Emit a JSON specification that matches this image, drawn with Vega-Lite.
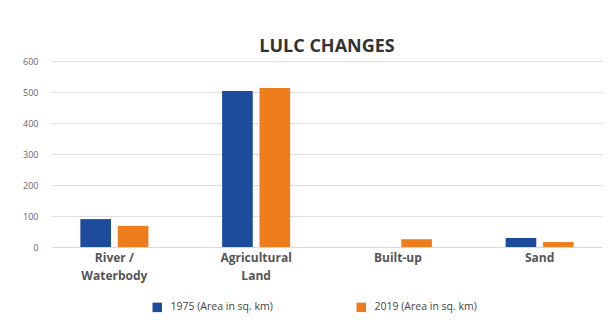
{
  "$schema": "https://vega.github.io/schema/vega-lite/v6.json",
  "width": 550,
  "height": 186,
  "padding": {"left": 22, "right": 8, "top": 38, "bottom": 4},
  "background": "white",
  "title": {"text": "LULC CHANGES", "font": "Open Sans", "fontSize": 18, "fontWeight": "bold", "color": "#333333", "anchor": "middle", "offset": 1},
  "data": {"values": [
    {"cat": "River /|Waterbody", "series": "1975 (Area in sq. km)", "area": 90},
    {"cat": "River /|Waterbody", "series": "2019 (Area in sq. km)", "area": 68},
    {"cat": "Agricultural|Land", "series": "1975 (Area in sq. km)", "area": 503},
    {"cat": "Agricultural|Land", "series": "2019 (Area in sq. km)", "area": 513},
    {"cat": "Built-up", "series": "1975 (Area in sq. km)", "area": 0},
    {"cat": "Built-up", "series": "2019 (Area in sq. km)", "area": 25},
    {"cat": "Sand", "series": "1975 (Area in sq. km)", "area": 29},
    {"cat": "Sand", "series": "2019 (Area in sq. km)", "area": 16}
  ]},
  "mark": {"type": "bar"},
  "encoding": {
    "x": {"field": "cat", "type": "nominal", "sort": null,
      "scale": {"paddingInner": 0.52, "paddingOuter": 0.2},
      "axis": {"title": null, "labelAngle": 0, "labelExpr": "split(datum.value, '|')", "labelFont": "Open Sans", "labelFontSize": 12, "labelFontWeight": "bold", "labelColor": "#555555", "labelLineHeight": 18, "domain": true, "domainColor": "#d9d9d9", "ticks": false, "labelPadding": 5}},
    "xOffset": {"field": "series", "type": "nominal", "scale": {"paddingInner": 0.18}},
    "y": {"field": "area", "type": "quantitative",
      "scale": {"domain": [0, 600]},
      "axis": {"title": null, "values": [0, 100, 200, 300, 400, 500, 600], "labelFont": "Open Sans", "labelFontSize": 9, "labelColor": "#666666", "domain": false, "ticks": false, "gridColor": "#dddddd", "labelPadding": 14}},
    "color": {"field": "series", "type": "nominal",
      "scale": {"range": ["#1d4c9c", "#ee7d1e"]},
      "legend": {"title": null, "orient": "none", "legendX": 100, "legendY": 241, "direction": "horizontal", "symbolType": "square", "symbolSize": 90, "labelFont": "Open Sans", "labelFontSize": 10.5, "labelColor": "#444444", "columnPadding": 83, "labelOffset": 8, "symbolStrokeWidth": 0}}
  },
  "config": {"view": {"stroke": null}}
}
